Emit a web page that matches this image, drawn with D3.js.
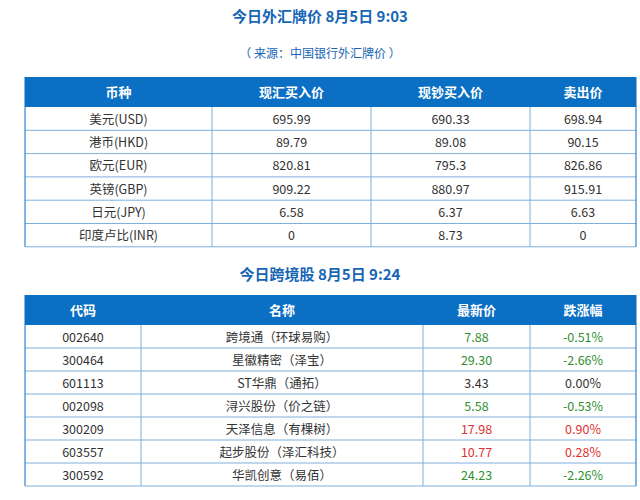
<!DOCTYPE html>
<html>
<head>
<meta charset="utf-8">
<script src="https://cdn.jsdelivr.net/npm/d3@7/dist/d3.min.js"></script>
<style>
body { margin: 0; background: #fff; font-family: "Noto Sans CJK SC", sans-serif; }
</style>
</head>
<body>
<svg id="chart" width="640" height="500"></svg>
<script>
// forex table
var fxHead = ['币种', '现汇买入价', '现钞买入价', '卖出价'];
var fxNames = ['美元(USD)', '港币(HKD)', '欧元(EUR)', '英镑(GBP)', '日元(JPY)', '印度卢比(INR)'];
var fxSpot = ['695.99', '89.79', '820.81', '909.22', '6.58', '0'];
var fxCash = ['690.33', '89.08', '795.3', '880.97', '6.37', '8.73'];
var fxSell = ['698.94', '90.15', '826.86', '915.91', '6.63', '0'];

// cross-border stocks
var stHead = ['代码', '名称', '最新价', '跌涨幅'];
var stCodes = ['002640', '300464', '601113', '002098', '300209', '603557', '300592'];
var stNames = ['跨境通（环球易购）', '星徽精密（泽宝）', 'ST华鼎（通拓）', '浔兴股份（价之链）', '天泽信息（有棵树）', '起步股份（泽汇科技）', '华凯创意（易佰）'];
var stPrice = ['7.88', '29.30', '3.43', '5.58', '17.98', '10.77', '24.23'];
var stChange = ['-0.51%', '-2.66%', '0.00%', '-0.53%', '0.90%', '0.28%', '-2.26%'];

var svg = d3.select('#chart');
var blue = '#0b6fc3', border = '#7fb0dd';

function title(y, text) {
	svg.append('text').attr('x', 320).attr('y', y).attr('text-anchor', 'middle')
		.attr('fill', '#1766b5').attr('font-size', 15).attr('font-weight', 'bold').text(text);
}

function table(top, headH, rowH, cols, head, rows, colorFn) {
	var x = d3.scaleOrdinal().domain(d3.range(cols.length - 1)).range(cols);
	var left = cols[0], right = cols[cols.length - 1];
	var g = svg.append('g');
	g.append('rect').attr('x', left).attr('y', top).attr('width', right - left)
		.attr('height', headH).attr('fill', blue);
	var y = d3.scaleBand().domain(d3.range(rows.length)).range([top + headH, top + headH + rowH * rows.length]);
	g.selectAll('.hd').data(head).enter().append('text')
		.attr('x', (d, i) => (cols[i] + cols[i + 1]) / 2).attr('y', top + headH / 2 + 5)
		.attr('text-anchor', 'middle').attr('fill', '#fff').attr('font-size', 13).attr('font-weight', 'bold').text(d => d);
	rows.forEach(function (r, ri) {
		g.append('line').attr('x1', left).attr('x2', right).attr('y1', y(ri) + rowH).attr('y2', y(ri) + rowH)
			.attr('stroke', border);
		r.forEach(function (c, ci) {
			g.append('text').attr('x', (cols[ci] + cols[ci + 1]) / 2).attr('y', y(ri) + rowH / 2 + 5)
				.attr('text-anchor', 'middle').attr('font-size', 12.5)
				.attr('fill', colorFn(ri, ci)).text(c);
		});
	});
	var bottom = top + headH + rowH * rows.length;
	cols.forEach(function (cx, i) {
		g.append('line').attr('x1', cx).attr('x2', cx).attr('y1', i == 0 || i == cols.length - 1 ? top : top + headH)
			.attr('y2', bottom).attr('stroke', i == 0 || i == cols.length - 1 ? blue : border);
	});
}

title(22, '今日外汇牌价  8月5日 9:03');
svg.append('text').attr('x', 320).attr('y', 58).attr('text-anchor', 'middle')
	.attr('fill', '#1766b5').attr('font-size', 12).text('（ 来源：中国银行外汇牌价 ）');
table(77, 30, 23.3, [25, 212, 371, 530, 636], fxHead,
	fxNames.map((n, i) => [n, fxSpot[i], fxCash[i], fxSell[i]]), () => '#333');

title(280, '今日跨境股  8月5日 9:24');
table(295, 30, 23, [25, 141, 423, 530, 636], stHead,
	stCodes.map((c, i) => [c, stNames[i], stPrice[i], stChange[i]]),
	function (ri, ci) {
		if (ci < 2) return '#333';
		var v = parseFloat(stChange[ri]);
		return v > 0 ? '#e0302f' : v < 0 ? '#2f8f2f' : '#333';
	});
</script>
</body>
</html>
